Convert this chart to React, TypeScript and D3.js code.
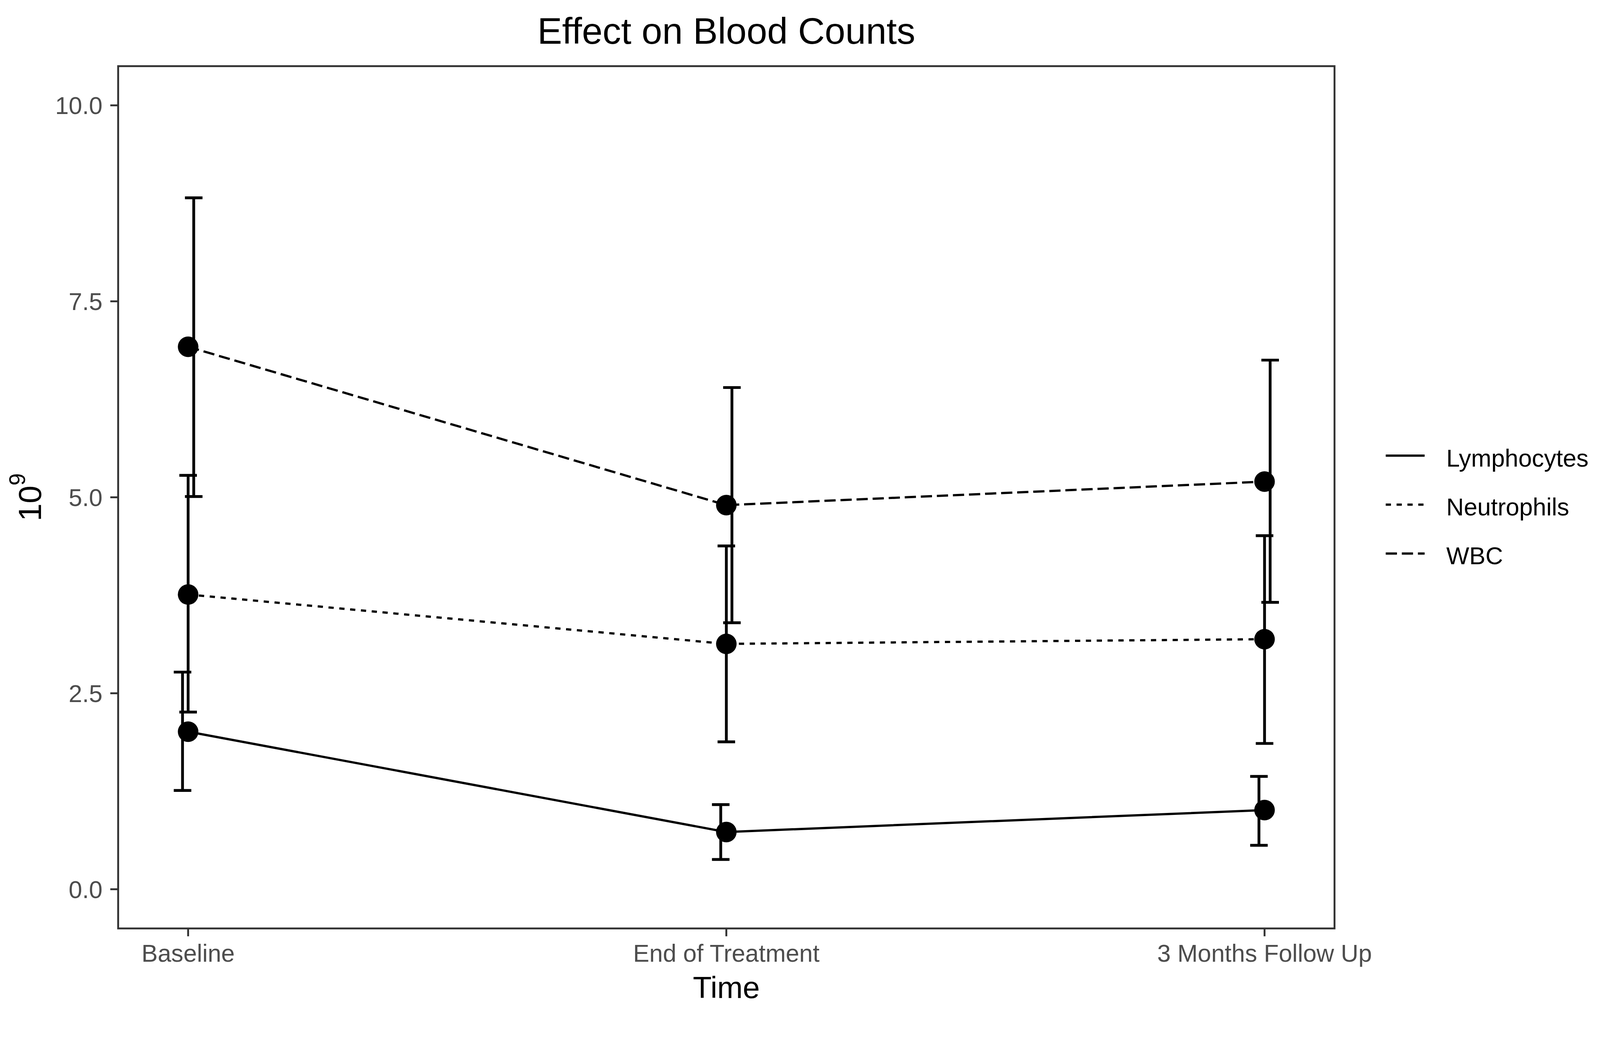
import * as d3 from "d3";
import React from "react";

// time points on the x axis
const timepoints = ["Baseline", "End of Treatment", "3 Months Follow Up"];

// cell counts (10^9), mean with lower / upper error bar ends
const lymphMean = [2.01, 0.73, 1.01];
const lymphLow = [1.26, 0.38, 0.56];
const lymphHigh = [2.77, 1.08, 1.44];

const neutMean = [3.76, 3.13, 3.19];
const neutLow = [2.26, 1.88, 1.86];
const neutHigh = [5.28, 4.38, 4.51];

const wbcMean = [6.92, 4.9, 5.2];
const wbcLow = [5.01, 3.4, 3.66];
const wbcHigh = [8.82, 6.4, 6.75];

const seriesNames = ["Lymphocytes", "Neutrophils", "WBC"];
const yTicks = [0, 2.5, 5, 7.5, 10];

type Series = {
  name: string;
  mean: number[];
  low: number[];
  high: number[];
  dash: string;
  dodge: number;
};

const series: Series[] = [
  { name: seriesNames[0], mean: lymphMean, low: lymphLow, high: lymphHigh, dash: "none", dodge: -1 },
  { name: seriesNames[1], mean: neutMean, low: neutLow, high: neutHigh, dash: "14 15", dodge: 0 },
  { name: seriesNames[2], mean: wbcMean, low: wbcLow, high: wbcHigh, dash: "30 13", dodge: 1 },
];

const W = 4279;
const H = 2707;
const panel = { left: 316, right: 3569, top: 177, bottom: 2484 };
const font = "'Liberation Sans', Arial, Helvetica, sans-serif";
const axisGrey = "#333333";
const labelGrey = "#4d4d4d";

export default function App() {
  const x = d3
    .scalePoint<string>()
    .domain(timepoints)
    .range([panel.left, panel.right])
    .padding(0.13);
  const y = d3.scaleLinear().domain([-0.5, 10.5]).range([panel.bottom, panel.top]);
  const step = x.step();
  const dodgeW = 0.0104 * step;
  const capHalf = 0.0163 * step;
  const fmt = d3.format(".1f");

  const line = d3
    .line<number>()
    .x((_, i) => x(timepoints[i]) as number)
    .y((d) => y(d));

  const legendX = 3706;
  const legendY = 1219;
  const legendGap = 131;

  return (
    <svg
      viewBox={`0 0 ${W} ${H}`}
      preserveAspectRatio="xMinYMin meet"
      style={{ position: "absolute", left: 0, top: 0, width: "100%", height: "auto", display: "block" }}
      fontFamily={font}
    >
      <rect x={0} y={0} width={W} height={H} fill="#fff" />

      {/* title */}
      <text x={(panel.left + panel.right) / 2} y={117} textAnchor="middle" fontSize={99} fill="#000">
        Effect on Blood Counts
      </text>

      {/* lines */}
      {series.map((s) => (
        <path
          key={"l" + s.name}
          d={line(s.mean) as string}
          fill="none"
          stroke="#000"
          strokeWidth={6}
          strokeDasharray={s.dash}
        />
      ))}

      {/* points */}
      {series.map((s) =>
        s.mean.map((v, i) => (
          <circle key={"p" + s.name + i} cx={x(timepoints[i]) as number} cy={y(v)} r={27.5} fill="#000" />
        ))
      )}

      {/* error bars */}
      {series.map((s) =>
        s.mean.map((_, i) => {
          const cx = (x(timepoints[i]) as number) + s.dodge * dodgeW;
          return (
            <g key={"e" + s.name + i} stroke="#000" strokeWidth={7.5}>
              <line x1={cx} x2={cx} y1={y(s.low[i])} y2={y(s.high[i])} />
              <line x1={cx - capHalf} x2={cx + capHalf} y1={y(s.high[i])} y2={y(s.high[i])} />
              <line x1={cx - capHalf} x2={cx + capHalf} y1={y(s.low[i])} y2={y(s.low[i])} />
            </g>
          );
        })
      )}

      {/* panel border */}
      <rect
        x={panel.left}
        y={panel.top}
        width={panel.right - panel.left}
        height={panel.bottom - panel.top}
        fill="none"
        stroke={axisGrey}
        strokeWidth={5}
      />

      {/* y axis */}
      {yTicks.map((t) => (
        <g key={"yt" + t}>
          <line x1={panel.left - 21} x2={panel.left} y1={y(t)} y2={y(t)} stroke={axisGrey} strokeWidth={5} />
          <text
            x={panel.left - 42}
            y={y(t)}
            dy="0.36em"
            textAnchor="end"
            fontSize={65}
            fill={labelGrey}
          >
            {fmt(t)}
          </text>
        </g>
      ))}

      {/* x axis */}
      {timepoints.map((t) => (
        <g key={"xt" + t}>
          <line
            x1={x(t) as number}
            x2={x(t) as number}
            y1={panel.bottom}
            y2={panel.bottom + 21}
            stroke={axisGrey}
            strokeWidth={5}
          />
          <text x={x(t) as number} y={2573} textAnchor="middle" fontSize={65} fill={labelGrey}>
            {t}
          </text>
        </g>
      ))}

      {/* axis titles */}
      <text x={(panel.left + panel.right) / 2} y={2670} textAnchor="middle" fontSize={82} fill="#000">
        Time
      </text>
      <text
        transform={`translate(110, ${(panel.top + panel.bottom) / 2}) rotate(-90)`}
        textAnchor="middle"
        fontSize={86}
        fill="#000"
      >
        10
        <tspan dy={-43} fontSize={59}>
          9
        </tspan>
      </text>

      {/* legend */}
      {series.map((s, i) => (
        <g key={"lg" + s.name}>
          <line
            x1={legendX}
            x2={legendX + 104}
            y1={legendY + i * legendGap}
            y2={legendY + i * legendGap}
            stroke="#000"
            strokeWidth={6}
            strokeDasharray={s.dash}
          />
          <text x={3868} y={legendY + i * legendGap + 29} fontSize={65} fill="#000">
            {s.name}
          </text>
        </g>
      ))}
    </svg>
  );
}
